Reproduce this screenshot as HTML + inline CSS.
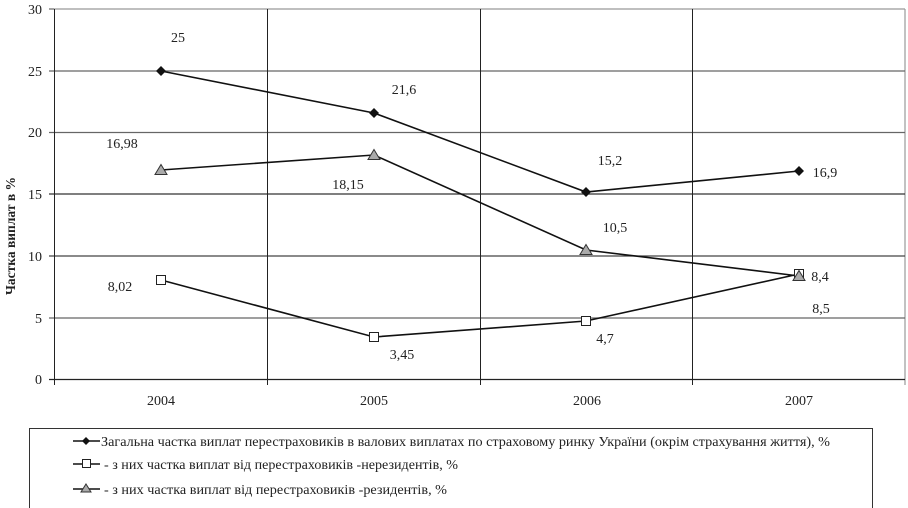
<!DOCTYPE html>
<html><head><meta charset="utf-8"><style>
html,body{margin:0;padding:0;background:#fff;width:908px;height:508px;overflow:hidden}
svg text{font-family:"Liberation Serif",serif;fill:#222}
</style></head><body>
<svg width="908" height="508" viewBox="0 0 908 508" xmlns="http://www.w3.org/2000/svg">
<rect width="908" height="508" fill="#fff"/>
<!-- plot border -->
<line x1="54" y1="9" x2="905" y2="9" stroke="#999" stroke-width="1.2"/>
<line x1="905" y1="9" x2="905" y2="385" stroke="#999" stroke-width="1.2"/>
<!-- horizontal grid -->
<g stroke="#666" stroke-width="1.2">
<line x1="49" y1="71" x2="905" y2="71"/>
<line x1="49" y1="132.5" x2="905" y2="132.5"/>
<line x1="49" y1="194" x2="905" y2="194" stroke="#333"/>
<line x1="49" y1="256" x2="905" y2="256" stroke="#444"/>
<line x1="49" y1="318" x2="905" y2="318"/>
<line x1="49" y1="9" x2="54" y2="9"/>
</g>
<!-- vertical grid -->
<g stroke="#222" stroke-width="1">
<line x1="267.5" y1="9" x2="267.5" y2="385"/>
<line x1="480.5" y1="9" x2="480.5" y2="385"/>
<line x1="692.5" y1="9" x2="692.5" y2="385"/>
<line x1="54.5" y1="9" x2="54.5" y2="385"/>
</g>
<line x1="49" y1="379.5" x2="905" y2="379.5" stroke="#222" stroke-width="1.2"/>
<!-- y ticks -->
<g font-size="14" text-anchor="end">
<text x="42" y="14">30</text>
<text x="42" y="76">25</text>
<text x="42" y="137">20</text>
<text x="42" y="199">15</text>
<text x="42" y="261">10</text>
<text x="42" y="323">5</text>
<text x="42" y="384">0</text>
</g>
<!-- x labels -->
<g font-size="14" text-anchor="middle">
<text x="161" y="405">2004</text>
<text x="374" y="405">2005</text>
<text x="587" y="405">2006</text>
<text x="799" y="405">2007</text>
</g>
<!-- y axis title -->
<text transform="translate(15,236) rotate(-90)" font-size="13.5" font-weight="bold" text-anchor="middle" textLength="118" lengthAdjust="spacingAndGlyphs">Частка виплат в %</text>
<!-- series lines -->
<g fill="none" stroke="#111" stroke-width="1.6">
<polyline points="161,71 374,113 586,192 799,171"/>
<polyline points="161,280 374,337 586,321 799,274"/>
<polyline points="161,170 374,155 586,250 799,276"/>
</g>
<!-- markers diamonds -->
<g fill="#111">
<polygon points="161,66 166,71 161,76 156,71"/>
<polygon points="374,108 379,113 374,118 369,113"/>
<polygon points="586,187 591,192 586,197 581,192"/>
<polygon points="799,166 804,171 799,176 794,171"/>
</g>
<!-- squares -->
<g fill="#fff" stroke="#222" stroke-width="1">
<rect x="156.5" y="275.5" width="9" height="9"/>
<rect x="369.5" y="332.5" width="9" height="9"/>
<rect x="581.5" y="316.5" width="9" height="9"/>
<rect x="794.5" y="269.5" width="9" height="9"/>
</g>
<!-- triangles -->
<g fill="#aaa" stroke="#333" stroke-width="1">
<polygon points="161,164.5 167,174.5 155,174.5"/>
<polygon points="374,149.5 380,159.5 368,159.5"/>
<polygon points="586,244.5 592,254.5 580,254.5"/>
<polygon points="799,270.5 805,280.5 793,280.5"/>
</g>
<!-- data labels -->
<g font-size="14" text-anchor="middle">
<text x="178" y="42">25</text>
<text x="122" y="148">16,98</text>
<text x="404" y="94">21,6</text>
<text x="348" y="189">18,15</text>
<text x="610" y="165">15,2</text>
<text x="825" y="177">16,9</text>
<text x="615" y="232">10,5</text>
<text x="820" y="281">8,4</text>
<text x="821" y="313">8,5</text>
<text x="120" y="291">8,02</text>
<text x="402" y="359">3,45</text>
<text x="605" y="343">4,7</text>
</g>
<!-- legend -->
<rect x="29.5" y="428.5" width="843" height="90" fill="#fff" stroke="#333" stroke-width="1"/>
<g stroke="#111" stroke-width="1.6">
<line x1="73" y1="441" x2="100" y2="441"/>
<line x1="73" y1="464" x2="100" y2="464"/>
<line x1="73" y1="489" x2="100" y2="489"/>
</g>
<polygon points="86,437 90,441 86,445 82,441" fill="#111"/>
<rect x="82.5" y="459.5" width="8" height="8" fill="#fff" stroke="#222"/>
<polygon points="86,484 91,492 81,492" fill="#aaa" stroke="#333"/>
<g font-size="13.5">
<text x="101" y="446" textLength="729" lengthAdjust="spacingAndGlyphs">Загальна частка виплат перестраховиків в валових виплатах по страховому ринку України (окрім страхування життя), %</text>
<text x="104" y="469" textLength="354" lengthAdjust="spacingAndGlyphs">- з них частка виплат від перестраховиків -нерезидентів, %</text>
<text x="104" y="494" textLength="343" lengthAdjust="spacingAndGlyphs">- з них частка виплат від перестраховиків -резидентів, %</text>
</g>
</svg>
</body></html>
